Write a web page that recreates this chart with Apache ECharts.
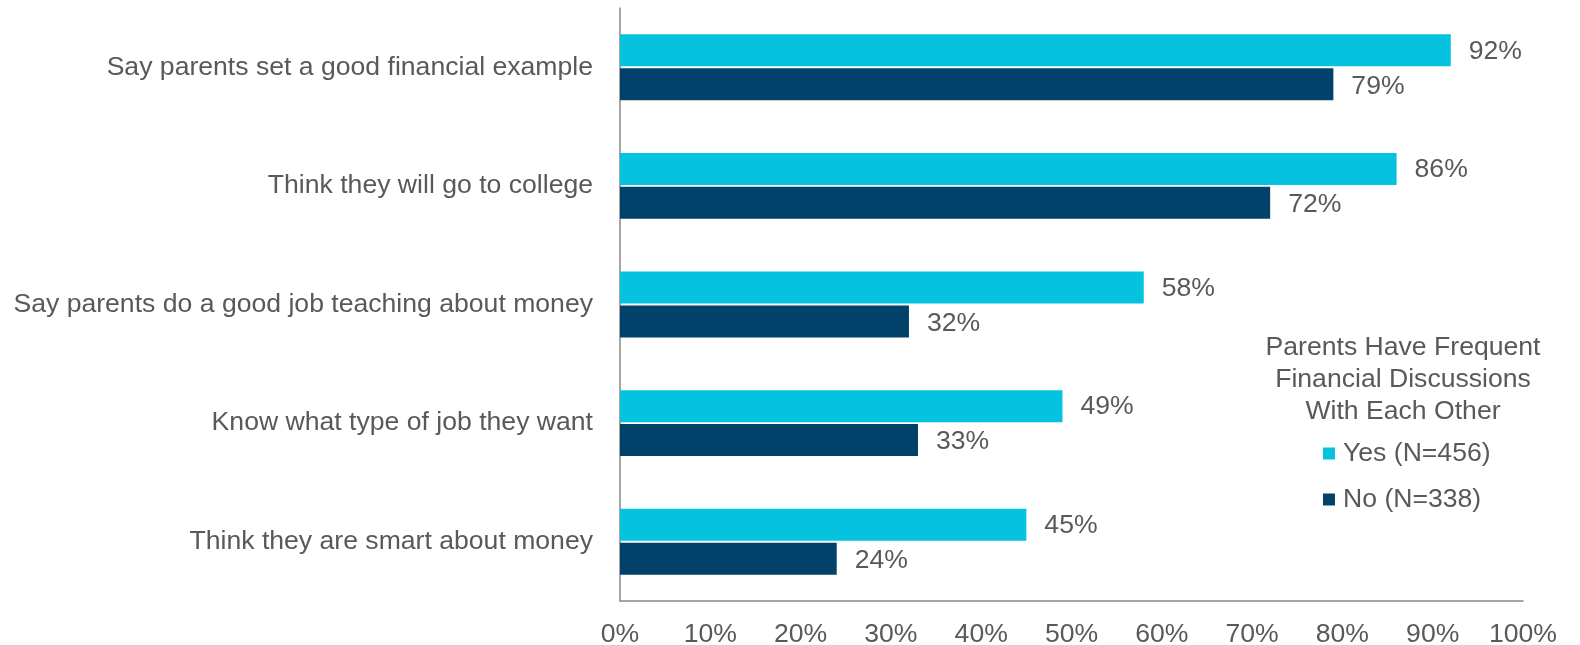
<!DOCTYPE html>
<html>
<head>
<meta charset="utf-8">
<script src="https://cdn.jsdelivr.net/npm/echarts@6/dist/echarts.min.js"></script>
<style>
html,body{margin:0;padding:0;background:#fff;}
#chart{width:1580px;height:645px;}
</style>
</head>
<body>
<div id="chart"></div>
<script>
const categories = [
  "Say parents set a good financial example",
  "Think they will go to college",
  "Say parents do a good job teaching about money",
  "Know what type of job they want",
  "Think they are smart about money"
];
const yesValues = [92, 86, 58, 49, 45];
const noValues = [79, 72, 32, 33, 24];
const seriesNames = ["Yes (N=456)", "No (N=338)"];
const legendTitle = "Parents Have Frequent\nFinancial Discussions\nWith Each Other";
const xTicks = [0, 10, 20, 30, 40, 50, 60, 70, 80, 90, 100];

const FONT = '"Liberation Sans", Arial, sans-serif';
const TXT = '#595959';
const FS = 26.6;

const chart = echarts.init(document.getElementById('chart'), null, {renderer: 'canvas'});
chart.setOption({
  animation: false,
  backgroundColor: '#fff',
  textStyle: {fontFamily: FONT},
  title: {
    text: legendTitle,
    left: 1403,
    top: 332,
    textAlign: 'center',
    padding: 0,
    textStyle: {fontFamily: FONT, fontSize: FS, fontWeight: 'normal', color: TXT, lineHeight: 32, align: 'center'}
  },
  legend: {
    orient: 'vertical',
    left: 1323,
    top: 440,
    padding: 0,
    itemWidth: 12,
    itemHeight: 12,
    itemGap: 19,
    icon: 'rect',
    data: seriesNames,
    textStyle: {fontFamily: FONT, fontSize: FS, color: TXT, lineHeight: 27, padding: [0, 0, 0, 3]}
  },
  grid: {left: 620, right: 57, top: 8, bottom: 44, containLabel: false, outerBoundsMode: 'none'},
  xAxis: {
    type: 'value',
    min: xTicks[0],
    max: xTicks[xTicks.length - 1],
    interval: xTicks[1] - xTicks[0],
    axisLine: {show: true, lineStyle: {color: '#898989', width: 1.5}},
    axisTick: {show: false},
    splitLine: {show: false},
    axisLabel: {formatter: '{value}%', fontFamily: FONT, fontSize: FS, color: TXT, margin: 20}
  },
  yAxis: {
    type: 'category',
    inverse: true,
    data: categories,
    axisLine: {show: true, lineStyle: {color: '#898989', width: 1.5}},
    axisTick: {show: false},
    axisLabel: {fontFamily: FONT, fontSize: FS, color: TXT, margin: 27}
  },
  series: [
    {
      name: seriesNames[0],
      type: 'bar',
      data: yesValues,
      barWidth: 32,
      barGap: '6%',
      itemStyle: {color: '#05C3DE'},
      label: {show: true, position: 'right', distance: 18, offset: [0, 1], formatter: '{c}%', fontFamily: FONT, fontSize: FS, color: TXT}
    },
    {
      name: seriesNames[1],
      type: 'bar',
      data: noValues,
      barWidth: 32,
      barGap: '6%',
      itemStyle: {color: '#024169'},
      label: {show: true, position: 'right', distance: 18, offset: [0, 2], formatter: '{c}%', fontFamily: FONT, fontSize: FS, color: TXT}
    }
  ]
});
</script>
</body>
</html>
